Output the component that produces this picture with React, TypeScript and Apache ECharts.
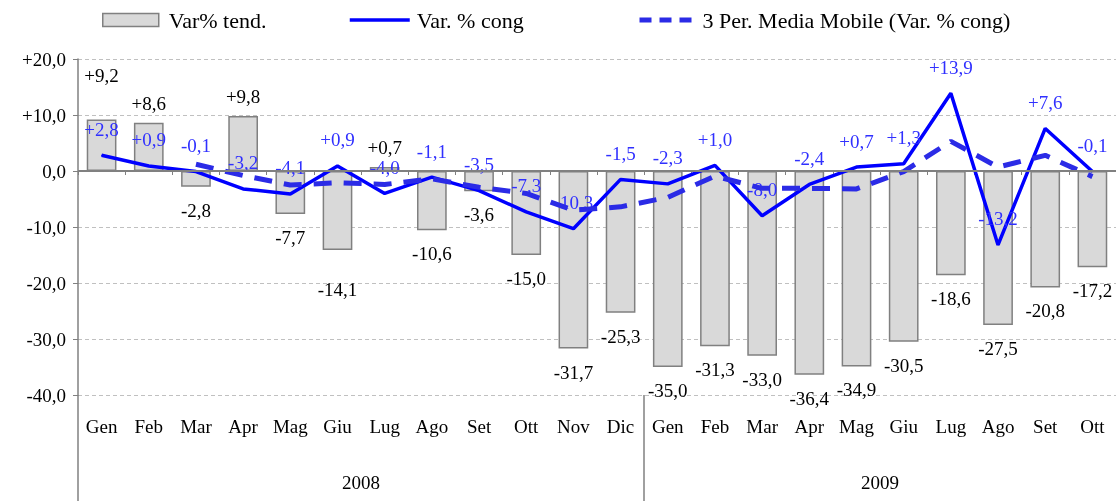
import React, { useEffect, useRef } from "react";
import * as echarts from "echarts";

const months = ["Gen","Feb","Mar","Apr","Mag","Giu","Lug","Ago","Set","Ott","Nov","Dic","Gen","Feb","Mar","Apr","Mag","Giu","Lug","Ago","Set","Ott"];
const years = ["2008", "2009"];
const monthsPerYear = [12, 10];
const varTend = [9.2, 8.6, -2.8, 9.8, -7.7, -14.1, 0.7, -10.6, -3.6, -15.0, -31.7, -25.3, -35.0, -31.3, -33.0, -36.4, -34.9, -30.5, -18.6, -27.5, -20.8, -17.2];
const varCong = [2.8, 0.9, -0.1, -3.2, -4.1, 0.9, -4.0, -1.1, -3.5, -7.3, -10.3, -1.5, -2.3, 1.0, -8.0, -2.4, 0.7, 1.3, 13.9, -13.2, 7.6, -0.1];
const mediaMobile = [null, null, 1.2, -0.8, -2.5, -2.1, -2.4, -1.4, -2.9, -4.0, -7.0, -6.4, -4.7, -0.9, -3.1, -3.1, -3.2, -0.1, 5.3, 0.7, 2.8, -1.0];
const seriesNames = ["Var% tend.", "Var. % cong", "3 Per. Media Mobile (Var. % cong)"];

// label distance overrides (style, not data)
const barLabelDistance: Record<number, number> = { 0: 34, 5: 30 };

const FONT = "'Liberation Serif', 'Times New Roman', serif";
const fmt = (v: number) => (v > 0 ? "+" : "") + v.toFixed(1).replace(".", ",");

export default function App() {
  const ref = useRef<HTMLDivElement>(null);
  useEffect(() => {
    if (!ref.current) return;
    const chart = echarts.init(ref.current, undefined, { renderer: "svg" });
    const yearMid: number[] = [];
    const yearStart: number[] = [];
    let acc = 0;
    monthsPerYear.forEach((n) => {
      yearStart.push(acc);
      yearMid.push(acc + n / 2);
      acc += n;
    });
    const legendText = (padLeft: number) => ({
      fontFamily: FONT,
      fontSize: 22,
      color: "#000",
      padding: [0, 0, 0, padLeft],
    });
    chart.setOption({
      animation: false,
      textStyle: { fontFamily: FONT },
      legend: [
        {
          top: 9, left: 102, padding: 0, itemWidth: 56, itemHeight: 13, selectedMode: false,
          icon: "rect",
          itemStyle: { borderColor: "#808080", borderWidth: 1.5 },
          textStyle: legendText(5),
          data: [seriesNames[0]],
        },
        {
          top: 9, left: 348, padding: 0, itemWidth: 60, itemHeight: 13, selectedMode: false,
          itemStyle: { opacity: 0 },
          lineStyle: { width: 3.5 },
          textStyle: legendText(2),
          data: [seriesNames[1]],
        },
        {
          top: 9, left: 637, padding: 0, itemWidth: 56, itemHeight: 13, selectedMode: false,
          itemStyle: { opacity: 0 },
          lineStyle: { type: [12, 8], width: 5 },
          textStyle: legendText(2),
          data: [seriesNames[2]],
        },
      ],
      grid: { left: 78, top: 59, width: 1045, bottom: 106, containLabel: false },
      xAxis: [
        {
          type: "category",
          data: months,
          position: "bottom",
          axisLine: { show: false },
          axisTick: { show: true, length: 4, lineStyle: { color: "#808080", width: 1 } },
          axisLabel: { fontFamily: FONT, fontSize: 19, color: "#000", margin: 22, interval: 0 },
          splitLine: { show: false },
        },
        {
          type: "value",
          min: 0,
          max: acc,
          position: "bottom",
          axisLine: { show: false },
          splitLine: { show: false },
          axisTick: {
            show: true,
            customValues: yearStart,
            length: 106,
            lineStyle: { color: "#808080", width: 1.5 },
          },
          axisLabel: {
            customValues: yearMid,
            fontFamily: FONT,
            fontSize: 19,
            color: "#000",
            margin: 78,
            formatter: (v: number) => {
              const i = yearMid.indexOf(v);
              return i >= 0 ? years[i] : "";
            },
          },
        },
      ],
      yAxis: {
        type: "value",
        min: -40,
        max: 20,
        interval: 10,
        axisLine: { show: true, lineStyle: { color: "#808080", width: 1.5 } },
        axisTick: { show: true, length: 5, lineStyle: { color: "#808080" } },
        axisLabel: { fontFamily: FONT, fontSize: 19, color: "#000", margin: 12, formatter: (v: number) => fmt(v) },
        splitLine: { show: true, lineStyle: { color: "#c0c0c0", type: [4, 3], width: 1 } },
      },
      series: [
        {
          name: seriesNames[0],
          type: "bar",
          xAxisIndex: 0,
          barWidth: "63%",
          itemStyle: { color: "#d9d9d9", borderColor: "#808080", borderWidth: 1.5 },
          data: varTend.map((v, i) => ({
            value: v,
            label: {
              show: true,
              position: v >= 0 ? "top" : "bottom",
              distance: barLabelDistance[i] ?? (v >= 0 ? 10 : 14),
            },
          })),
          label: { show: true, fontFamily: FONT, fontSize: 19, color: "#000", formatter: (p: any) => fmt(p.value) },
          markLine: {
            silent: true,
            symbol: "none",
            label: { show: false },
            lineStyle: { color: "#808080", width: 2, type: "solid" },
            data: [{ yAxis: 0 }],
          },
          z: 2,
        },
        {
          name: seriesNames[1],
          type: "line",
          xAxisIndex: 0,
          data: varCong,
          symbol: "circle",
          symbolSize: 1,
          showSymbol: true,
          lineStyle: { color: "#0000ff", width: 3.5 },
          itemStyle: { color: "#0000ff" },
          label: {
            show: true,
            position: "top",
            distance: 16,
            fontFamily: FONT,
            fontSize: 19,
            color: "#3030ff",
            formatter: (p: any) => fmt(p.value),
          },
          z: 3,
        },
        {
          name: seriesNames[2],
          type: "line",
          xAxisIndex: 0,
          data: mediaMobile,
          symbol: "none",
          lineStyle: { color: "#2b2be6", width: 5, type: [18, 12] },
          itemStyle: { color: "#2b2be6" },
          z: 4,
        },
      ],
    });
    return () => chart.dispose();
  }, []);
  return <div ref={ref} style={{ position: "fixed", left: 0, top: 0, width: 1116, height: 501 }} />;
}
